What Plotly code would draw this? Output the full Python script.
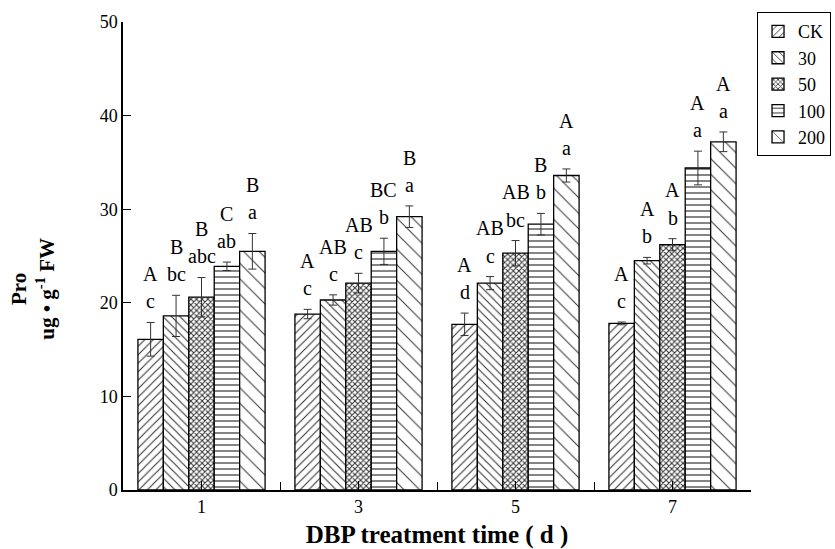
import plotly.graph_objects as go

categories = ["1", "3", "5", "7"]
series_names = ["CK", "30", "50", "100", "200"]

values = {
    "CK":  [16.1, 18.8, 17.7, 17.8],
    "30":  [18.6, 20.3, 22.1, 24.5],
    "50":  [20.6, 22.1, 25.3, 26.2],
    "100": [23.9, 25.5, 28.4, 34.4],
    "200": [25.5, 29.2, 33.6, 37.2],
}
errors = {
    "CK":  [1.8, 0.5, 1.2, 0.15],
    "30":  [2.2, 0.55, 0.7, 0.35],
    "50":  [2.1, 1.05, 1.35, 0.65],
    "100": [0.45, 1.4, 1.15, 1.8],
    "200": [1.9, 1.15, 0.7, 1.05],
}
upper_letters = {
    "CK":  ["A", "A", "A", "A"],
    "30":  ["B", "AB", "AB", "A"],
    "50":  ["B", "AB", "AB", "A"],
    "100": ["C", "BC", "B", "A"],
    "200": ["B", "B", "A", "A"],
}
lower_letters = {
    "CK":  ["c", "c", "d", "c"],
    "30":  ["bc", "c", "c", "b"],
    "50":  ["abc", "c", "bc", "b"],
    "100": ["ab", "b", "b", "a"],
    "200": ["a", "a", "a", "a"],
}

patterns = {
    "CK":  dict(shape="/", size=6, solidity=0.18),
    "30":  dict(shape="\\", size=6, solidity=0.18),
    "50":  dict(shape="x", size=4, solidity=0.45),
    "100": dict(shape="-", size=6, solidity=0.2),
    "200": dict(shape="\\", size=11, solidity=0.09),
}

FONT = "Liberation Serif"
bargap = 0.19
n_series = len(series_names)
xidx = list(range(len(categories)))

fig = go.Figure()
for s in series_names:
    p = patterns[s]
    fig.add_trace(go.Bar(
        name=s, x=xidx, y=values[s],
        error_y=dict(type="data", array=errors[s], color="#333", thickness=1, width=4),
        marker=dict(color="white", line=dict(color="black", width=1.3),
                    pattern=dict(shape=p["shape"], size=p["size"], solidity=p["solidity"],
                                 fgcolor="#333", bgcolor="white", fillmode="replace")),
    ))

bar_w = (1 - bargap) / n_series
annotations = []
for si, s in enumerate(series_names):
    off = (si - (n_series - 1) / 2) * bar_w
    for gi in xidx:
        top = values[s][gi] + errors[s][gi]
        y_low = top + 2.25
        y_up = y_low + 2.9
        annotations.append(dict(x=gi + off, y=y_low, xref="x", yref="y", text=lower_letters[s][gi],
                                showarrow=False, font=dict(family=FONT, size=20, color="black"),
                                yanchor="middle"))
        annotations.append(dict(x=gi + off, y=y_up, xref="x", yref="y", text=upper_letters[s][gi],
                                showarrow=False, font=dict(family=FONT, size=20, color="black"),
                                yanchor="middle"))

annotations.append(dict(x=-0.144, y=0.429, xref="paper", yref="paper", textangle=-90,
                        xanchor="center", yanchor="middle",
                        text="<b>Pro</b><br><b>ug • g<sup>-1</sup> FW</b>", showarrow=False,
                        font=dict(family=FONT, size=21, color="black")))

fig.update_layout(
    width=835, height=549,
    margin=dict(l=123, r=84, t=22, b=59, autoexpand=False),
    paper_bgcolor="white", plot_bgcolor="white",
    barmode="group", bargap=bargap, bargroupgap=0,
    showlegend=True,
    legend=dict(x=1.0096, y=1.021, xanchor="left", yanchor="top",
                bordercolor="black", borderwidth=1, bgcolor="white",
                font=dict(family=FONT, size=18, color="black"),
                tracegroupgap=0, itemwidth=30),
    annotations=annotations,
    font=dict(family=FONT, color="black"),
)
fig.update_xaxes(
    range=[-0.5, len(categories) - 0.5], tickmode="array", tickvals=xidx, ticktext=categories,
    ticks="inside", ticklen=9, tickwidth=1.3, tickcolor="black",
    minor=dict(tickmode="array", tickvals=[i - 0.5 for i in range(len(categories) + 1)],
               ticks="inside", ticklen=8, tickwidth=1.3, tickcolor="black"),
    showline=True, linecolor="black", linewidth=1.5, showgrid=False, zeroline=False,
    tickfont=dict(family=FONT, size=18, color="black"),
    ticklabelstandoff=0,
    title=dict(text="<b>DBP treatment time ( d )</b>", font=dict(family=FONT, size=25, color="black"),
               standoff=10),
)
fig.update_yaxes(
    range=[0, 50], tickmode="linear", tick0=0, dtick=10,
    ticks="inside", ticklen=8, tickwidth=1.3, tickcolor="black",
    showline=True, linecolor="black", linewidth=1.5, showgrid=False, zeroline=False,
    tickfont=dict(family=FONT, size=18, color="black"),
)

fig.write_html("out.html", config={"displayModeBar": False},
               post_script="document.body.style.margin='0';")
